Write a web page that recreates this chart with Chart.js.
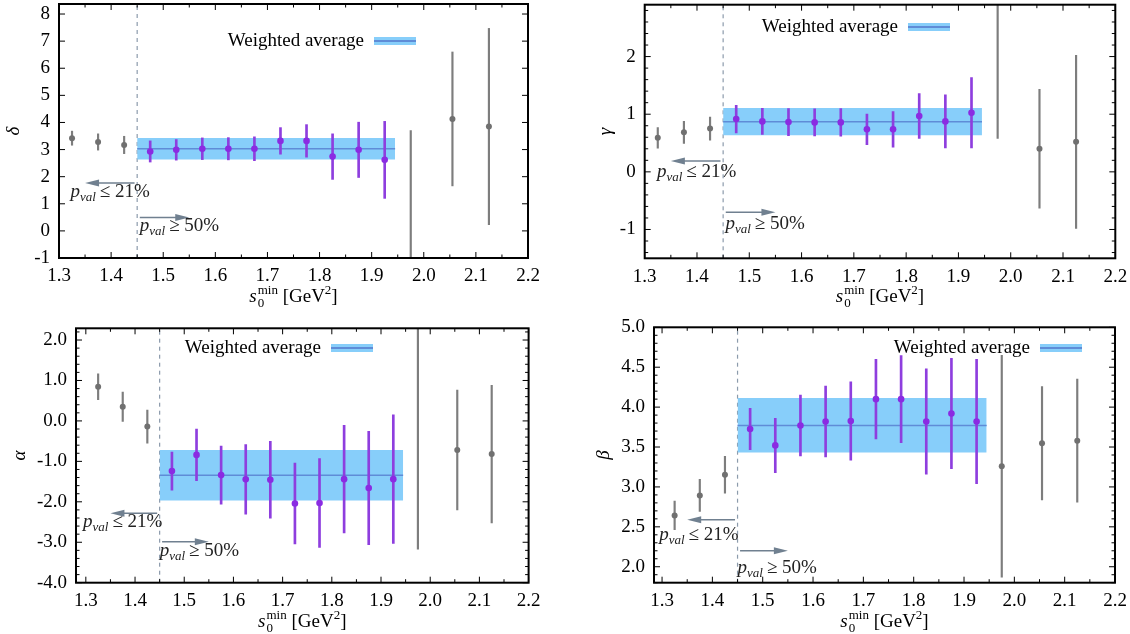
<!DOCTYPE html>
<html>
<head>
<meta charset="utf-8">
<script src="https://cdn.jsdelivr.net/npm/chart.js@4.4.0/dist/chart.umd.min.js"></script>
<style>
    html, body { margin: 0; padding: 0; background: #fff; }
    #wrap { position: relative; width: 1130px; height: 634px; overflow: hidden; }
    .cell { position: absolute; width: 565px; height: 317px; }
</style>
</head>
<body>
<div id="wrap">
    <div class="cell" style="left:0;top:0"><canvas id="cDelta" width="565" height="317"></canvas></div>
    <div class="cell" style="left:565px;top:0"><canvas id="cGamma" width="565" height="317"></canvas></div>
    <div class="cell" style="left:0;top:317px"><canvas id="cAlpha" width="565" height="317"></canvas></div>
    <div class="cell" style="left:565px;top:317px"><canvas id="cBeta" width="565" height="317"></canvas></div>
</div>
<script>
// s0min 取值
const xLow = [1.325, 1.375, 1.425];
const xMid = [1.475, 1.525, 1.575, 1.625, 1.675, 1.725, 1.775, 1.825, 1.875, 1.925];
const xHigh = [1.975, 2.055, 2.125];
const xTicks = [1.3, 1.4, 1.5, 1.6, 1.7, 1.8, 1.9, 2.0, 2.1, 2.2];
const bandX = [1.45, 1.945];
const cutX = 1.45;

// delta
const deltaLow = [3.42, 3.28, 3.17];
const deltaLowErr = [0.26, 0.30, 0.32];
const deltaMid = [2.93, 2.99, 3.03, 3.03, 3.03, 3.32, 3.32, 2.74, 2.99, 2.62];
const deltaMidErr = [0.39, 0.38, 0.40, 0.41, 0.44, 0.49, 0.60, 0.84, 1.02, 1.42];
const deltaHigh = [-3.0, 4.13, 3.85];
const deltaHighErr = [6.7, 2.47, 3.62];
const deltaBand = [2.63, 3.03, 3.43];
const deltaTicks = [-1, 0, 1, 2, 3, 4, 5, 6, 7, 8];

// gamma
const gammaLow = [0.59, 0.685, 0.75];
const gammaLowErr = [0.18, 0.19, 0.20];
const gammaMid = [0.916, 0.875, 0.864, 0.858, 0.858, 0.737, 0.737, 0.968, 0.875, 1.025];
const gammaMidErr = [0.24, 0.225, 0.235, 0.235, 0.24, 0.265, 0.31, 0.39, 0.46, 0.61];
const gammaHigh = [3.5, 0.40, 0.52];
const gammaHighErr = [2.92, 1.03, 1.50];
const gammaBand = [0.633, 0.87, 1.106];
const gammaTicks = [-1, 0, 1, 2];

// alpha
const alphaLow = [0.846, 0.35, -0.14];
const alphaLowErr = [0.32, 0.36, 0.41];
const alphaMid = [-1.24, -0.84, -1.34, -1.445, -1.455, -2.04, -2.03, -1.44, -1.66, -1.44];
const alphaMidErr = [0.47, 0.64, 0.72, 0.86, 0.95, 1.0, 1.1, 1.33, 1.40, 1.59];
const alphaHigh = [2.6, -0.72, -0.82];
const alphaHighErr = [5.77, 1.48, 1.70];
const alphaBand = [-1.97, -1.345, -0.72];
const alphaTicks = [-4, -3, -2, -1, 0, 1, 2];

// beta
const betaLow = [2.643, 2.894, 3.153];
const betaLowErr = [0.18, 0.20, 0.23];
const betaMid = [3.726, 3.52, 3.77, 3.82, 3.826, 4.10, 4.10, 3.82, 3.92, 3.82];
const betaMidErr = [0.26, 0.34, 0.38, 0.445, 0.49, 0.50, 0.545, 0.66, 0.69, 0.78];
const betaHigh = [3.26, 3.546, 3.58];
const betaHighErr = [1.39, 0.71, 0.77];
const betaBand = [3.43, 3.77, 4.114];
const betaTicks = [2.0, 2.5, 3.0, 3.5, 4.0, 4.5, 5.0];

const FONT = "'Liberation Serif', 'DejaVu Serif', serif";
const BAND = 'rgb(135,206,250)';
const BAND_LINE = 'rgb(95,140,215)';
const GRAY = 'rgb(112,112,112)';
const GRAY_BAR = 'rgb(125,125,125)';
const PURPLE = 'rgb(138,43,226)';
const PURPLE_BAR = 'rgb(142,62,222)';
const ARROW = 'rgb(112,128,144)';
const DASH = 'rgb(140,155,172)';

Chart.defaults.font.family = FONT;
Chart.defaults.font.size = 19;
Chart.defaults.color = '#000';

// 画箭头
function drawArrow(ctx, x0, x1, y) {
    const dir = Math.sign(x1 - x0);
    ctx.beginPath();
    ctx.moveTo(x0, y);
    ctx.lineTo(x1 - dir * 8, y);
    ctx.stroke();
    ctx.beginPath();
    ctx.moveTo(x1, y);
    ctx.lineTo(x1 - dir * 14, y - 3.5);
    ctx.lineTo(x1 - dir * 14, y + 3.5);
    ctx.closePath();
    ctx.fill();
}

// p_val 标注
function drawPval(ctx, x, y, rel) {
    ctx.fillStyle = '#222';
    ctx.textAlign = 'left';
    ctx.textBaseline = 'alphabetic';
    ctx.font = 'italic 19px ' + FONT;
    ctx.fillText('p', x, y);
    x += ctx.measureText('p').width;
    ctx.font = 'italic 13px ' + FONT;
    ctx.fillText('val', x, y + 4);
    x += ctx.measureText('val').width + 4;
    ctx.font = '19px ' + FONT;
    ctx.fillText(rel, x, y);
}

// 横轴标题 s0^min [GeV^2]
function drawXTitle(ctx, cx, base) {
    const big = '19px ' + FONT, small = '13px ' + FONT;
    ctx.fillStyle = '#000';
    ctx.textAlign = 'left';
    ctx.textBaseline = 'alphabetic';
    ctx.font = 'italic ' + big; const wS = ctx.measureText('s').width;
    ctx.font = small; const wSub = ctx.measureText('0').width, wSup = ctx.measureText('min').width, w2 = ctx.measureText('2').width;
    ctx.font = big; const wA = ctx.measureText(' [GeV').width, wB = ctx.measureText(']').width;
    const total = wS + 1 + Math.max(wSub, wSup) + wA + w2 + wB;
    let x = cx - total / 2;
    ctx.font = 'italic ' + big; ctx.fillText('s', x, base); x += wS + 1;
    ctx.font = small; ctx.fillText('0', x, base + 5); ctx.fillText('min', x, base - 8); x += Math.max(wSub, wSup);
    ctx.font = big; ctx.fillText(' [GeV', x, base); x += wA;
    ctx.font = small; ctx.fillText('2', x, base - 8); x += w2;
    ctx.font = big; ctx.fillText(']', x, base);
}

const decorPlugin = {
    id: 'decor',
    afterDatasetsDraw(chart, args, o) {
        const ctx = chart.ctx, a = chart.chartArea;
        const xs = chart.scales.x, ys = chart.scales.y;
        ctx.save();

        // 箭头和 p 值说明
        ctx.strokeStyle = ARROW;
        ctx.fillStyle = ARROW;
        ctx.lineWidth = 1.5;
        o.arrows.forEach(ar => drawArrow(ctx, xs.getPixelForValue(ar.from), xs.getPixelForValue(ar.to), ys.getPixelForValue(ar.y)));
        o.notes.forEach(n => drawPval(ctx, xs.getPixelForValue(n.x), ys.getPixelForValue(n.y), n.text));

        // 图例
        const lg = o.legend;
        ctx.font = '19px ' + FONT;
        ctx.fillStyle = '#000';
        ctx.textAlign = 'right';
        ctx.textBaseline = 'middle';
        ctx.fillText('Weighted average', lg.x - 10, lg.y);
        ctx.fillStyle = BAND;
        ctx.fillRect(lg.x, lg.y - 4, 42, 8);
        ctx.strokeStyle = BAND_LINE;
        ctx.lineWidth = 2;
        ctx.beginPath(); ctx.moveTo(lg.x, lg.y); ctx.lineTo(lg.x + 42, lg.y); ctx.stroke();

        // 边框与刻度（朝内）
        ctx.strokeStyle = '#000';
        ctx.lineWidth = 1;
        const xMajor = xs.ticks.map(t => t.value);
        const yMajor = ys.ticks.map(t => t.value);
        const near = (arr, v) => arr.some(m => Math.abs(m - v) < 1e-6);
        ctx.beginPath();
        const i0 = Math.ceil(xs.min / 0.05 - 1e-6), i1 = Math.floor(xs.max / 0.05 + 1e-6);
        for (let i = i0; i <= i1; i++) {
            const v = i * 0.05, px = xs.getPixelForValue(v);
            const len = near(xMajor, v) ? 6 : 3.5;
            ctx.moveTo(px, a.bottom); ctx.lineTo(px, a.bottom - len);
            ctx.moveTo(px, a.top); ctx.lineTo(px, a.top + len);
        }
        yMajor.forEach(v => {
            const py = ys.getPixelForValue(v);
            ctx.moveTo(a.left, py); ctx.lineTo(a.left + 6, py);
            ctx.moveTo(a.right, py); ctx.lineTo(a.right - 6, py);
        });
        if (o.minorY) {
            const j0 = Math.ceil(ys.min / o.minorY - 1e-6), j1 = Math.floor(ys.max / o.minorY + 1e-6);
            for (let j = j0; j <= j1; j++) {
                const v = j * o.minorY;
                if (near(yMajor, v)) continue;
                const py = ys.getPixelForValue(v);
                ctx.moveTo(a.left, py); ctx.lineTo(a.left + 3.5, py);
                ctx.moveTo(a.right, py); ctx.lineTo(a.right - 3.5, py);
            }
        }
        ctx.stroke();
        ctx.lineWidth = 2;
        ctx.strokeRect(a.left, a.top, a.right - a.left, a.bottom - a.top);

        drawXTitle(ctx, (a.left + a.right) / 2, a.bottom + 44);
        ctx.restore();
    }
};

function errorSet(xs, vals, errs, barColor, barWidth, color, radius) {
    return [
        {
            type: 'bar',
            data: xs.map((x, i) => ({ x: x, y: [vals[i] - errs[i], vals[i] + errs[i]] })),
            backgroundColor: barColor,
            borderWidth: 0,
            barThickness: barWidth,
            grouped: false,
            order: 2
        },
        {
            type: 'scatter',
            data: xs.map((x, i) => ({ x: x, y: vals[i] })),
            pointRadius: radius,
            pointBackgroundColor: color,
            pointBorderWidth: 0,
            order: 1
        }
    ];
}

function makePanel(id, p) {
    const datasets = [
        {
            type: 'line',
            data: bandX.map(x => ({ x: x, y: p.band[2] })),
            fill: { value: p.band[0] },
            backgroundColor: BAND,
            borderWidth: 0,
            pointRadius: 0,
            order: 5
        },
        {
            type: 'line',
            data: bandX.map(x => ({ x: x, y: p.band[1] })),
            borderColor: BAND_LINE,
            borderWidth: 1.5,
            pointRadius: 0,
            fill: false,
            order: 4
        },
        {
            type: 'line',
            data: [{ x: cutX, y: p.yRange[0] }, { x: cutX, y: p.yRange[1] }],
            borderColor: DASH,
            borderDash: [4, 4],
            borderWidth: 1.2,
            pointRadius: 0,
            fill: false,
            order: 6
        }
    ]
        .concat(errorSet(xLow, p.low, p.lowErr, GRAY_BAR, 1.5, GRAY, 3))
        .concat(errorSet(xMid, p.mid, p.midErr, PURPLE_BAR, 2, PURPLE, 3.3))
        .concat(errorSet(xHigh, p.high, p.highErr, GRAY_BAR, 1.5, GRAY, 3));

    const ar = p.area;
    const tickFont = { family: FONT, size: 19 };
    return new Chart(document.getElementById(id), {
        type: 'scatter',
        data: { datasets: datasets },
        options: {
            responsive: false,
            animation: false,
            events: [],
            layout: { padding: { left: 0, top: ar.T, right: 565 - ar.R, bottom: 0 } },
            plugins: {
                legend: { display: false },
                tooltip: { enabled: false },
                decor: { arrows: p.arrows, notes: p.notes, legend: p.legend, minorY: p.minorY }
            },
            scales: {
                x: {
                    type: 'linear',
                    min: p.xRange[0],
                    max: p.xRange[1],
                    offset: false,
                    grid: { display: false, drawTicks: false },
                    border: { display: false },
                    ticks: { padding: 7, font: tickFont, color: '#000', callback: v => v.toFixed(1) },
                    afterBuildTicks: s => { s.ticks = xTicks.map(v => ({ value: v })); },
                    afterFit: s => { s.height = 317 - ar.B; s.paddingLeft = 0; s.paddingRight = 0; }
                },
                y: {
                    type: 'linear',
                    min: p.yRange[0],
                    max: p.yRange[1],
                    grid: { display: false, drawTicks: false },
                    border: { display: false },
                    ticks: { padding: 9, font: tickFont, color: '#000', callback: v => v.toFixed(p.dec) },
                    afterBuildTicks: s => { s.ticks = p.yTicks.map(v => ({ value: v })); },
                    afterFit: s => { s.width = ar.L; s.paddingTop = 0; s.paddingBottom = 0; },
                    title: {
                        display: true,
                        text: p.label,
                        color: '#000',
                        font: { family: FONT, size: 19, style: 'italic' },
                        padding: { top: p.titleX - 11.4, bottom: 0 }
                    }
                }
            }
        },
        plugins: [decorPlugin]
    });
}

makePanel('cDelta', {
    label: 'δ', low: deltaLow, lowErr: deltaLowErr, mid: deltaMid, midErr: deltaMidErr,
    high: deltaHigh, highErr: deltaHighErr, band: deltaBand, yTicks: deltaTicks, dec: 0,
    xRange: [1.3, 2.2], yRange: [-1, 8.37], minorY: null,
    area: { L: 59, T: 4, R: 528, B: 258 }, titleX: 14.3,
    legend: { x: 374, y: 41 },
    arrows: [{ from: 1.445, to: 1.35, y: 1.77 }, { from: 1.455, to: 1.55, y: 0.49 }],
    notes: [{ x: 1.322, y: 1.25, text: '≤ 21%' }, { x: 1.455, y: -0.02, text: '≥ 50%' }]
});

makePanel('cGamma', {
    label: 'γ', low: gammaLow, lowErr: gammaLowErr, mid: gammaMid, midErr: gammaMidErr,
    high: gammaHigh, highErr: gammaHighErr, band: gammaBand, yTicks: gammaTicks, dec: 0,
    xRange: [1.3, 2.2], yRange: [-1.5, 2.9], minorY: 0.2,
    area: { L: 79.7, T: 4.7, R: 550.3, B: 258.3 }, titleX: 41,
    legend: { x: 343, y: 27 },
    arrows: [{ from: 1.445, to: 1.35, y: 0.19 }, { from: 1.455, to: 1.55, y: -0.70 }],
    notes: [{ x: 1.3235, y: -0.09, text: '≤ 21%' }, { x: 1.4545, y: -1.0, text: '≥ 50%' }]
});

makePanel('cAlpha', {
    label: 'α', low: alphaLow, lowErr: alphaLowErr, mid: alphaMid, midErr: alphaMidErr,
    high: alphaHigh, highErr: alphaHighErr, band: alphaBand, yTicks: alphaTicks, dec: 1,
    xRange: [1.28, 2.2], yRange: [-4, 2.29], minorY: 0.2,
    area: { L: 76, T: 11.3, R: 528.6, B: 265.7 }, titleX: 19.6,
    legend: { x: 331, y: 31 },
    arrows: [{ from: 1.445, to: 1.35, y: -2.28 }, { from: 1.455, to: 1.55, y: -2.99 }],
    notes: [{ x: 1.2943, y: -2.62, text: '≤ 21%' }, { x: 1.45, y: -3.34, text: '≥ 50%' }]
});

makePanel('cBeta', {
    label: 'β', low: betaLow, lowErr: betaLowErr, mid: betaMid, midErr: betaMidErr,
    high: betaHigh, highErr: betaHighErr, band: betaBand, yTicks: betaTicks, dec: 1,
    xRange: [1.284, 2.2], yRange: [1.8, 5.0], minorY: 0.1,
    area: { L: 89, T: 10.3, R: 550, B: 265.7 }, titleX: 38.6,
    legend: { x: 475, y: 31 },
    arrows: [{ from: 1.445, to: 1.35, y: 2.59 }, { from: 1.455, to: 1.55, y: 2.20 }],
    notes: [{ x: 1.2944, y: 2.33, text: '≤ 21%' }, { x: 1.45, y: 1.92, text: '≥ 50%' }]
});
</script>
</body>
</html>
